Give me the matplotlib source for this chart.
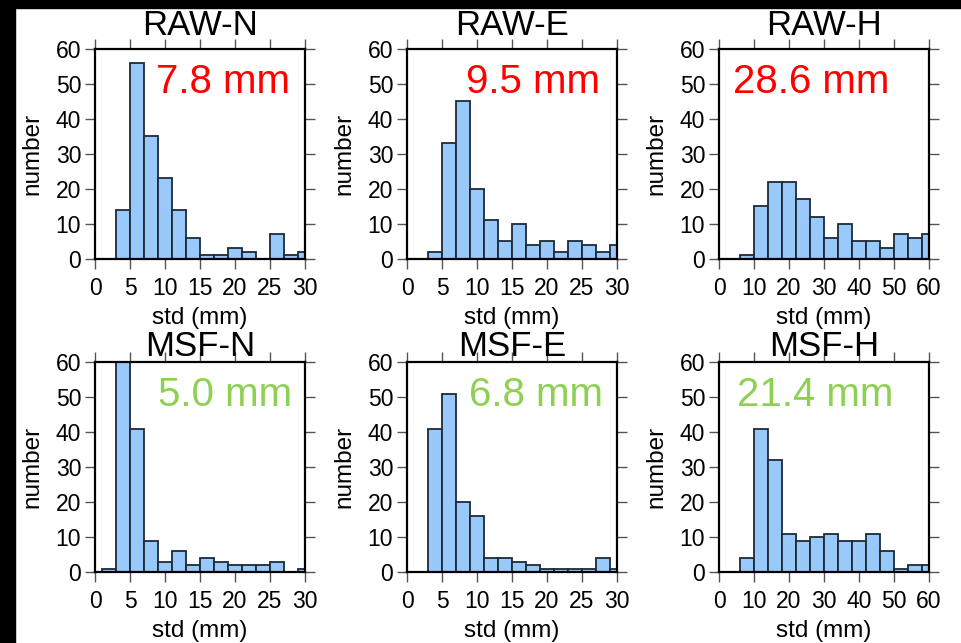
import matplotlib
matplotlib.use('Agg')
import matplotlib.pyplot as plt
import numpy as np

font = {'family': ['Liberation Sans', 'DejaVu Sans'],
        'weight': 'normal',
        'size': 16}
matplotlib.rc('font', **font)

# bin centres (N/E: 2 mm bins, H: 4 mm bins)
centers_ne = np.arange(0, 32, 2)
centers_h = np.arange(0, 64, 4)

raw_n = [0, 0, 14, 56, 35, 23, 14, 6, 1, 1, 3, 2, 0, 7, 1, 2]
raw_e = [0, 0, 2, 33, 45, 20, 11, 5, 10, 4, 5, 2, 5, 4, 2, 4]
raw_h = [0, 0, 1, 15, 22, 22, 17, 12, 6, 10, 5, 5, 3, 7, 6, 7]
msf_n = [0, 1, 63, 41, 9, 3, 6, 2, 4, 3, 2, 2, 2, 3, 0, 1]
msf_e = [0, 0, 41, 51, 20, 16, 4, 4, 3, 2, 1, 1, 1, 1, 4, 1]
msf_h = [0, 0, 4, 41, 32, 11, 9, 10, 11, 9, 9, 11, 6, 1, 2, 2]

titles = ['RAW-N', 'RAW-E', 'RAW-H', 'MSF-N', 'MSF-E', 'MSF-H']
labels = ['7.8 mm', '9.5 mm', '28.6 mm', '5.0 mm', '6.8 mm', '21.4 mm']
label_x = [0.61, 0.598, 0.44, 0.621, 0.612, 0.46]

W, H = 961, 643
fig = plt.figure(figsize=(W / 100, H / 100), dpi=100)
fig.patch.set_facecolor('white')

# black border bands top and left
fig.patches.append(plt.Rectangle((0, 1 - 8 / H), 1, 8 / H, transform=fig.transFigure,
                                 color='black', zorder=0))
fig.patches.append(plt.Rectangle((0, 0), 15 / W, 1, transform=fig.transFigure,
                                 color='black', zorder=0))

lefts = [95, 407, 719]
tops = [49, 362]
size = 210

data = [raw_n, raw_e, raw_h, msf_n, msf_e, msf_h]
for i in range(6):
    row, col = divmod(i, 3)
    ax = fig.add_axes([lefts[col] / W, 1 - (tops[row] + size) / H, size / W, size / H])
    is_h = col == 2
    centers = centers_h if is_h else centers_ne
    width = 4 if is_h else 2
    ax.bar(centers, data[i], width=width, color='#99c8fa', edgecolor='#1c2a38',
           linewidth=1.3, zorder=2)
    ax.set_xlim(0, 60 if is_h else 30)
    ax.set_ylim(0, 60)
    ax.set_xticks(np.arange(0, 61, 10) if is_h else np.arange(0, 31, 5))
    ax.set_yticks(np.arange(0, 61, 10))
    ax.tick_params(direction='out', length=7, width=1, top=True, right=True,
                   labelsize=16.5, colors='black')
    ax.tick_params(axis='x', pad=6)
    ax.tick_params(axis='y', pad=3)
    ax.tick_params(axis='both', which='major', color='#555555')
    for sp in ax.spines.values():
        sp.set_linewidth(1.6)
        sp.set_zorder(3)
    ax.set_xlabel('std (mm)', fontsize=17.5, labelpad=5)
    ax.set_ylabel('number', fontsize=17.5, labelpad=9)
    ax.set_title(titles[i], fontsize=25, pad=10 if row == 0 else 4)
    ax.text(label_x[i], 0.79, labels[i],
            transform=ax.transAxes, fontsize=29, ha='center', va='baseline',
            color='#ff0000' if row == 0 else '#8ed152', zorder=4)

fig.savefig('out.png', dpi=100)
